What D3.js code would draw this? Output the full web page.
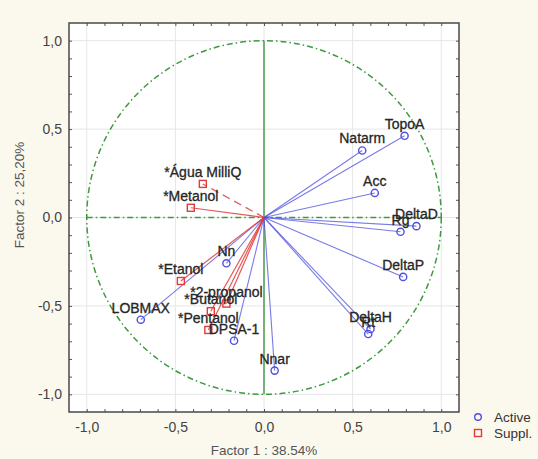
<!DOCTYPE html>
<html>
<head>
<meta charset="utf-8">
<script src="https://cdn.jsdelivr.net/npm/d3@7/dist/d3.min.js"></script>
<style>
  body { margin: 0; background: #fbf8ee; }
  svg { display: block; }
  text { font-family: "Liberation Sans", Arial, sans-serif; }
</style>
</head>
<body>
<div id="chart"></div>
<script>
// variaveis activas (circulos azuis)
const activeNames = ["TopoA", "Natarm", "Acc", "DeltaD", "Rg", "DeltaP", "DeltaH", "Rt", "Nnar", "DPSA-1", "Nn", "LOBMAX"];
const activeF1 = [0.793, 0.554, 0.625, 0.860, 0.770, 0.785, 0.601, 0.588, 0.060, -0.169, -0.212, -0.695];
const activeF2 = [0.462, 0.379, 0.139, -0.049, -0.081, -0.336, -0.631, -0.659, -0.866, -0.697, -0.259, -0.578];

// variaveis suplementares (quadrados vermelhos)
const supplNames = ["*Água MilliQ", "*Metanol", "*Etanol", "*2-propanol", "*Butanol", "*Pentanol"];
const supplF1 = [-0.345, -0.413, -0.469, -0.212, -0.300, -0.314];
const supplF2 = [0.190, 0.055, -0.359, -0.487, -0.530, -0.636];

const minorTicks = d3.range(-10, 11).map(i => i / 10);
const xTitle = "Factor 1 : 38.54%";
const yTitle = "Factor 2 : 25,20%";
const legendLabels = ["Active", "Suppl."];

const W = 538, H = 459;
const plotLeft = 69, plotTop = 23, pw = 390, ph = 389;

const svg = d3.select("#chart").append("svg")
    .attr("width", W)
    .attr("height", H);

svg.append("rect")
    .attr("width", W).attr("height", H)
    .attr("fill", "#fbf8ee");

const x = d3.scaleLinear().domain([-1.1, 1.1]).range([plotLeft, plotLeft + pw]);
const y = d3.scaleLinear().domain([-1.1, 1.1]).range([plotTop + ph, plotTop]);

svg.append("rect")
    .attr("x", plotLeft).attr("y", plotTop)
    .attr("width", pw).attr("height", ph)
    .attr("fill", "#fff");

function fmt(d) {
    if (Math.abs(d * 2 - Math.round(d * 2)) > 1e-6) return "";
    return (d < -1e-9 ? "-" : "") + Math.abs(d).toFixed(1).replace(".", ",");
}

const majors = minorTicks.filter(d => fmt(d) !== "");

// grelha
const grid = svg.append("g");
grid.selectAll(".gx").data(majors).enter().append("line")
    .attr("x1", d => x(d)).attr("x2", d => x(d))
    .attr("y1", plotTop).attr("y2", plotTop + ph)
    .attr("stroke", "#e6e6e6").attr("stroke-width", 1);
grid.selectAll(".gy").data(majors).enter().append("line")
    .attr("y1", d => y(d)).attr("y2", d => y(d))
    .attr("x1", plotLeft).attr("x2", plotLeft + pw)
    .attr("stroke", "#e6e6e6").attr("stroke-width", 1);

// eixos
const axisStyle = g => {
    g.select(".domain").remove();
    g.selectAll(".tick line").attr("stroke", "#555");
    g.selectAll(".tick text")
        .attr("fill", "#444")
        .style("font-size", "14px");
};

svg.append("g")
    .attr("transform", `translate(0,${plotTop + ph})`)
    .call(d3.axisBottom(x).tickValues(minorTicks).tickSize(-3).tickPadding(10).tickFormat(fmt))
    .call(axisStyle);
svg.append("g")
    .attr("transform", `translate(${plotLeft},0)`)
    .call(d3.axisLeft(y).tickValues(minorTicks).tickSize(-3).tickPadding(7).tickFormat(fmt))
    .call(axisStyle);
svg.append("g")
    .attr("transform", `translate(0,${plotTop})`)
    .call(d3.axisTop(x).tickValues(minorTicks).tickSize(-3).tickFormat(""))
    .call(axisStyle);
svg.append("g")
    .attr("transform", `translate(${plotLeft + pw},0)`)
    .call(d3.axisRight(y).tickValues(minorTicks).tickSize(-3).tickFormat(""))
    .call(axisStyle);

svg.append("rect")
    .attr("x", plotLeft).attr("y", plotTop)
    .attr("width", pw).attr("height", ph)
    .attr("fill", "none")
    .attr("stroke", "#4a4a4a")
    .attr("stroke-width", 1.5);

// circulo de correlacao
const green = "#3f9a3f";
svg.append("ellipse")
    .attr("cx", x(0)).attr("cy", y(0))
    .attr("rx", x(1) - x(0)).attr("ry", y(0) - y(1))
    .attr("fill", "none")
    .attr("stroke", green)
    .attr("stroke-width", 1.5)
    .attr("stroke-dasharray", "6,3,1.5,3");

svg.append("line")
    .attr("x1", x(-1)).attr("x2", x(1))
    .attr("y1", y(0)).attr("y2", y(0))
    .attr("stroke", green).attr("stroke-width", 1.5)
    .attr("stroke-dasharray", "6,3,1.5,3");

svg.append("line")
    .attr("x1", x(0)).attr("x2", x(0))
    .attr("y1", y(1)).attr("y2", y(-1))
    .attr("stroke", "#4c9c4c").attr("stroke-width", 1.5);

const active = activeNames.map((n, i) => ({ name: n, f1: activeF1[i], f2: activeF2[i] }));
const suppl = supplNames.map((n, i) => ({ name: n, f1: supplF1[i], f2: supplF2[i] }));

const blue = "#4f4fe0", red = "#e23b3b";

// linhas desde a origem
svg.append("g").selectAll("line").data(active).enter().append("line")
    .attr("x1", x(0)).attr("y1", y(0))
    .attr("x2", d => x(d.f1)).attr("y2", d => y(d.f2))
    .attr("stroke", blue).attr("stroke-width", 1.1).attr("opacity", 0.75);

svg.append("g").selectAll("line").data(suppl).enter().append("line")
    .attr("x1", x(0)).attr("y1", y(0))
    .attr("x2", d => x(d.f1)).attr("y2", d => y(d.f2))
    .attr("stroke", red).attr("stroke-width", 1.2).attr("opacity", 0.85)
    .attr("stroke-dasharray", (d, i) => i === 0 ? "8,5" : null);

// marcadores
svg.append("g").selectAll("circle").data(active).enter().append("circle")
    .attr("cx", d => x(d.f1)).attr("cy", d => y(d.f2))
    .attr("r", 3.6)
    .attr("fill", "none").attr("stroke", blue).attr("stroke-width", 1.4);

svg.append("g").selectAll("rect").data(suppl).enter().append("rect")
    .attr("x", d => x(d.f1) - 3.5).attr("y", d => y(d.f2) - 3.5)
    .attr("width", 7).attr("height", 7)
    .attr("fill", "none").attr("stroke", red).attr("stroke-width", 1.4);

// rotulos (sobrepostos como no original)
svg.append("g").selectAll("text").data(active.concat(suppl)).enter().append("text")
    .attr("x", d => x(d.f1)).attr("y", d => y(d.f2) - 7)
    .attr("text-anchor", "middle")
    .attr("fill", "#262626")
    .attr("stroke", "#262626")
    .attr("stroke-width", 0.3)
    .style("font-size", "14px")
    .text(d => d.name);

// titulos
svg.append("text")
    .attr("x", x(0)).attr("y", 455)
    .attr("text-anchor", "middle")
    .attr("fill", "#555")
    .style("font-size", "13.5px")
    .text(xTitle);

svg.append("text")
    .attr("transform", "translate(24,195) rotate(-90)")
    .attr("text-anchor", "middle")
    .attr("fill", "#555")
    .style("font-size", "13.5px")
    .text(yTitle);

// legenda
const leg = svg.append("g");
leg.append("circle")
    .attr("cx", 478).attr("cy", 417).attr("r", 3.3)
    .attr("fill", "none").attr("stroke", blue).attr("stroke-width", 1.4);
leg.append("rect")
    .attr("x", 474.5).attr("y", 429.5).attr("width", 7).attr("height", 7)
    .attr("fill", "none").attr("stroke", red).attr("stroke-width", 1.4);
leg.selectAll("text").data(legendLabels).enter().append("text")
    .attr("x", 494).attr("y", (d, i) => 417 + i * 16)
    .attr("dy", "0.35em")
    .attr("fill", "#333")
    .style("font-size", "13.5px")
    .text(d => d);
</script>
</body>
</html>
